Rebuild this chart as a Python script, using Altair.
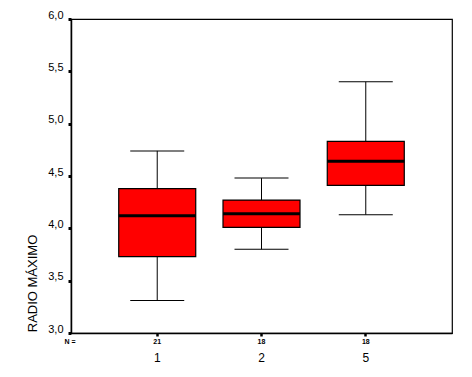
import altair as alt
import pandas as pd

groups = ["1", "2", "5"]
n_counts = [21, 18, 18]
whisker_low = [3.31, 3.80, 4.13]
q1 = [3.73, 4.01, 4.41]
median = [4.12, 4.14, 4.64]
q3 = [4.38, 4.27, 4.83]
whisker_high = [4.74, 4.48, 5.40]

df = pd.DataFrame({
    "grupo": groups, "n": n_counts, "lo": whisker_low, "q1": q1,
    "med": median, "q3": q3, "hi": whisker_high,
})

FONT = "Liberation Sans"

xscale = alt.Scale(domain=groups, paddingInner=0, paddingOuter=0.327)
yscale = alt.Scale(domain=[3, 6], nice=False, zero=False)

x = alt.X("grupo:N", scale=xscale, sort=groups, axis=alt.Axis(
    title=None, labelAngle=0, labelFont=FONT, labelFontSize=12, labelColor="black",
    labelPadding=16, tickSize=3, tickWidth=2.5, tickColor="black",
    domainColor="black", domainWidth=1.5))

y_axis = alt.Axis(
    title="RADIO MÁXIMO", titleFont=FONT, titleFontSize=13, titleFontWeight="normal",
    titleColor="black", titleAngle=270, titleX=-39, titleY=264, titleAlign="center",
    titleBaseline="middle",
    values=[3, 3.5, 4, 4.5, 5, 5.5, 6],
    labelExpr="replace(format(datum.value, '.1f'), '.', ',')",
    labelFont=FONT, labelFontSize=11, labelColor="black", labelPadding=5,
    labelBaseline="alphabetic", labelOffset=-1,
    tickSize=3, tickWidth=3, tickColor="black", domainColor="black", domainWidth=1.5,
    grid=False)

base = alt.Chart(df)

whiskers = base.mark_rule(color="black", strokeWidth=1, opacity=1).encode(
    x=x, y=alt.Y("lo:Q", scale=yscale, axis=y_axis), y2="hi:Q")

caps_lo = base.mark_tick(orient="horizontal", color="black", size=54, thickness=1,
                         opacity=1).encode(x=x, y=alt.Y("lo:Q", scale=yscale))
caps_hi = base.mark_tick(orient="horizontal", color="black", size=54, thickness=1,
                         opacity=1).encode(x=x, y=alt.Y("hi:Q", scale=yscale))

boxes = base.mark_bar(size=77, color="#FF0000", stroke="black", strokeWidth=1.2,
                      opacity=1).encode(x=x, y=alt.Y("q1:Q", scale=yscale), y2="q3:Q")

medians = base.mark_tick(orient="horizontal", color="black", size=77, thickness=3,
                         opacity=1).encode(x=x, y=alt.Y("med:Q", scale=yscale))

ntext = base.mark_text(font=FONT, fontSize=7, fontWeight="bold", color="black",
                       baseline="middle").encode(
    x=x, y=alt.value(322.7), text="n:Q")

nlabel = alt.Chart(pd.DataFrame({"t": ["N ="]})).mark_text(
    font=FONT, fontSize=7, fontWeight="bold", color="black", baseline="middle", align="center"
).encode(x=alt.value(-1), y=alt.value(322.7), text="t:N")

chart = alt.layer(whiskers, caps_lo, caps_hi, boxes, medians, ntext, nlabel).properties(
    width=381, height=314,
    autosize="none",
    padding={"left": 71, "top": 19, "right": 20, "bottom": 44},
    background="white",
).configure_view(stroke="black", strokeWidth=1.2)

chart.save("out.html", embed_options={"renderer": "svg", "actions": False})
